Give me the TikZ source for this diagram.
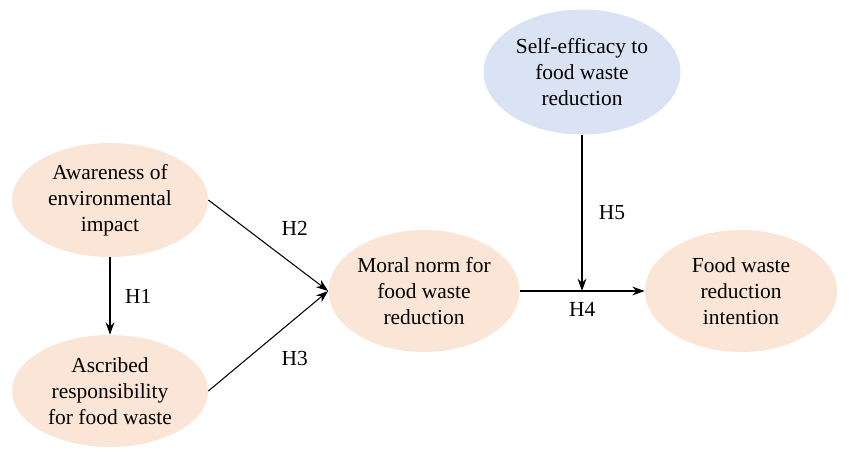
\documentclass[tikz,border=0pt]{standalone}
\usepackage{fontspec}
\setmainfont{Liberation Serif}
\usetikzlibrary{arrows.meta,shapes.geometric,positioning}

\definecolor{peach}{RGB}{251,229,214}
\definecolor{paleblue}{RGB}{218,227,243}

\tikzset{
  construct/.style={ellipse, fill=peach, align=center, inner sep=0pt,
    font=\fontsize{12.2}{14.8}\selectfont},
  hypo/.style={-{Stealth[length=7pt,width=5pt]}, line width=0.6pt},
  hlabel/.style={font=\fontsize{12.2}{14.8}\selectfont}
}

\begin{document}
\begin{tikzpicture}
  \useasboundingbox (0,0) rectangle (17.08,9.02);

  % constructs
  \node[construct, minimum width=3.92cm, minimum height=2.28cm] (awareness) at (2.2,5.02)
    {Awareness of\\environmental\\impact};
  \node[construct, minimum width=3.92cm, minimum height=2.24cm] (ascribed) at (2.2,1.2)
    {Ascribed\\responsibility\\for food waste};
  \node[construct, minimum width=3.82cm, minimum height=2.44cm] (moral) at (8.48,3.2)
    {Moral norm for\\food waste\\reduction};
  \node[construct, minimum width=3.84cm, minimum height=2.44cm] (intention) at (14.82,3.2)
    {Food waste\\reduction\\intention};
  \node[construct, fill=paleblue, minimum width=3.94cm, minimum height=2.5cm] (efficacy) at (11.64,7.58)
    {Self-efficacy to\\food waste\\reduction};

  \coordinate (moderate) at (11.64,3.2);

  % hypotheses
  \draw[hypo] (awareness.south) -- node[hlabel, midway, right=5pt] {H1} (ascribed.north);
  \draw[hypo] (awareness.east) -- node[hlabel, midway, above right=2pt and 4pt] {H2} (moral.west);
  \draw[hypo] (ascribed.east) -- node[hlabel, midway, below right=2pt and 4pt] {H3} (moral.west);
  \draw[hypo] (moral.east) -- node[hlabel, midway, below=3pt] {H4} (intention.west);
  \draw[hypo] (efficacy.south) -- node[hlabel, midway, right=6pt] {H5} (moderate);
\end{tikzpicture}
\end{document}
